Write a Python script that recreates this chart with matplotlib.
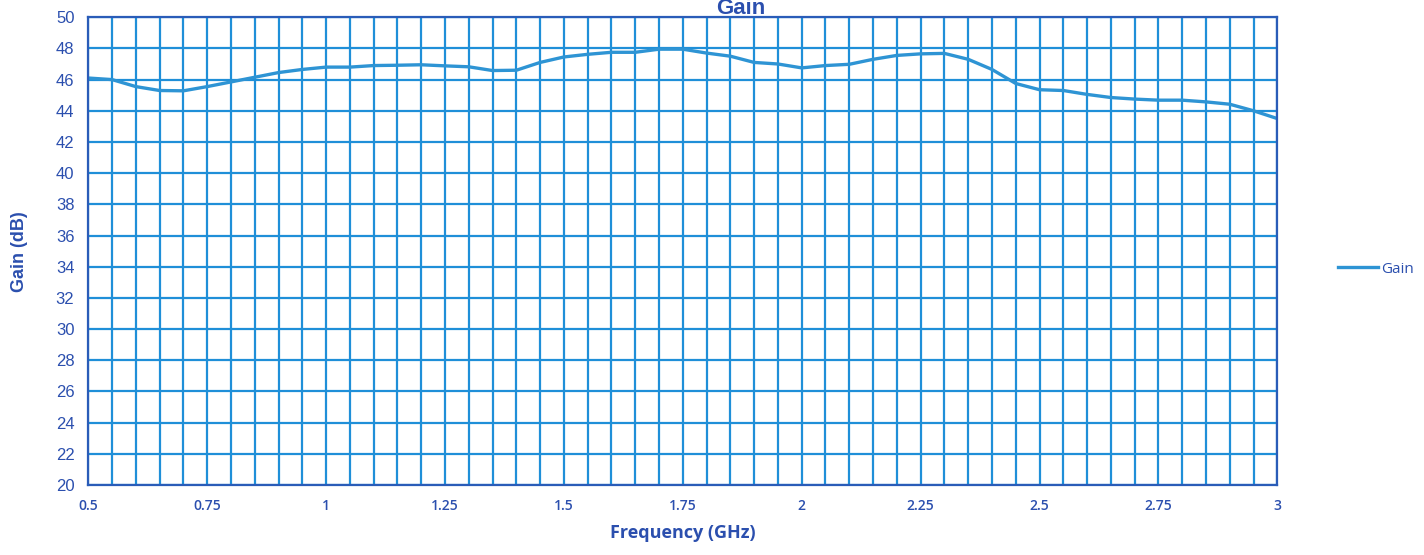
import matplotlib
matplotlib.use("Agg")
import matplotlib.pyplot as plt
import numpy as np

freq = [0.5, 0.55, 0.6, 0.65, 0.7, 0.75, 0.8, 0.85, 0.9, 0.95,
        1.0, 1.05, 1.1, 1.15, 1.2, 1.25, 1.3, 1.35, 1.4, 1.45,
        1.5, 1.55, 1.6, 1.65, 1.7, 1.75, 1.8, 1.85, 1.9, 1.95,
        2.0, 2.05, 2.1, 2.15, 2.2, 2.25, 2.3, 2.35, 2.4, 2.45,
        2.5, 2.55, 2.6, 2.65, 2.7, 2.75, 2.8, 2.85, 2.9, 2.95, 3.0]
gain = [46.1, 46.0, 45.55, 45.3, 45.28, 45.55, 45.85, 46.15, 46.45, 46.65,
        46.8, 46.8, 46.9, 46.92, 46.95, 46.88, 46.82, 46.58, 46.6, 47.1,
        47.45, 47.62, 47.75, 47.75, 47.95, 47.95, 47.7, 47.5, 47.1, 47.0,
        46.75, 46.9, 46.98, 47.3, 47.55, 47.65, 47.68, 47.3, 46.65, 45.75,
        45.35, 45.3, 45.05, 44.85, 44.75, 44.68, 44.68, 44.57, 44.42, 44.0, 43.5]

x_ticks = [0.5, 0.75, 1, 1.25, 1.5, 1.75, 2, 2.25, 2.5, 2.75, 3]
x_labels = ["0.5", "0.75", "1", "1.25", "1.5", "1.75", "2", "2.25", "2.5", "2.75", "3"]
y_ticks = list(range(20, 51, 2))

text_col = "#2b4fae"
grid_col = "#1f8fd8"
frame_col = "#2a5cb8"
line_col = "#2e94d4"

fig = plt.figure(figsize=(14.24, 5.55), dpi=100)
ax = fig.add_axes([0.062, 0.126, 0.835, 0.843])

ax.plot(freq, gain, color=line_col, lw=2.4, label="Gain")

ax.set_xlim(0.5, 3)
ax.set_ylim(20, 50)
ax.set_xticks(np.arange(0.5, 3.001, 0.05), minor=True)
ax.set_xticks(x_ticks)
ax.set_xticklabels(x_labels, fontfamily="Open Sans", fontweight="semibold",
                   fontsize=10, color=text_col)
ax.set_yticks(y_ticks)
ax.set_yticklabels([str(v) for v in y_ticks], fontfamily="Liberation Sans",
                   fontsize=12, color=text_col)
ax.tick_params(which="both", length=0)
ax.tick_params(axis="x", pad=10)
ax.tick_params(axis="y", pad=10)
ax.grid(True, which="both", color=grid_col, lw=1.6)
ax.set_axisbelow(True)
for s in ax.spines.values():
    s.set_color(frame_col)
    s.set_linewidth(1.6)

ax.set_xlabel("Frequency (GHz)", fontfamily="Open Sans", fontweight="bold",
              fontsize=13, color=text_col, labelpad=8)
ax.set_ylabel("Gain (dB)", fontfamily="Liberation Sans", fontweight="bold",
              fontsize=13, color=text_col, labelpad=20)
fig.text(0.52, 0.985, "Gain", ha="center", va="center", fontfamily="Liberation Sans",
         fontweight="bold", fontsize=16, color=text_col)

leg = fig.legend(loc="center left", bbox_to_anchor=(0.93, 0.515), frameon=False,
                 handlelength=2.6, handletextpad=0.2, prop={"family": "Open Sans", "size": 11})
for t in leg.get_texts():
    t.set_color(text_col)

fig.savefig("out.png", dpi=100)
